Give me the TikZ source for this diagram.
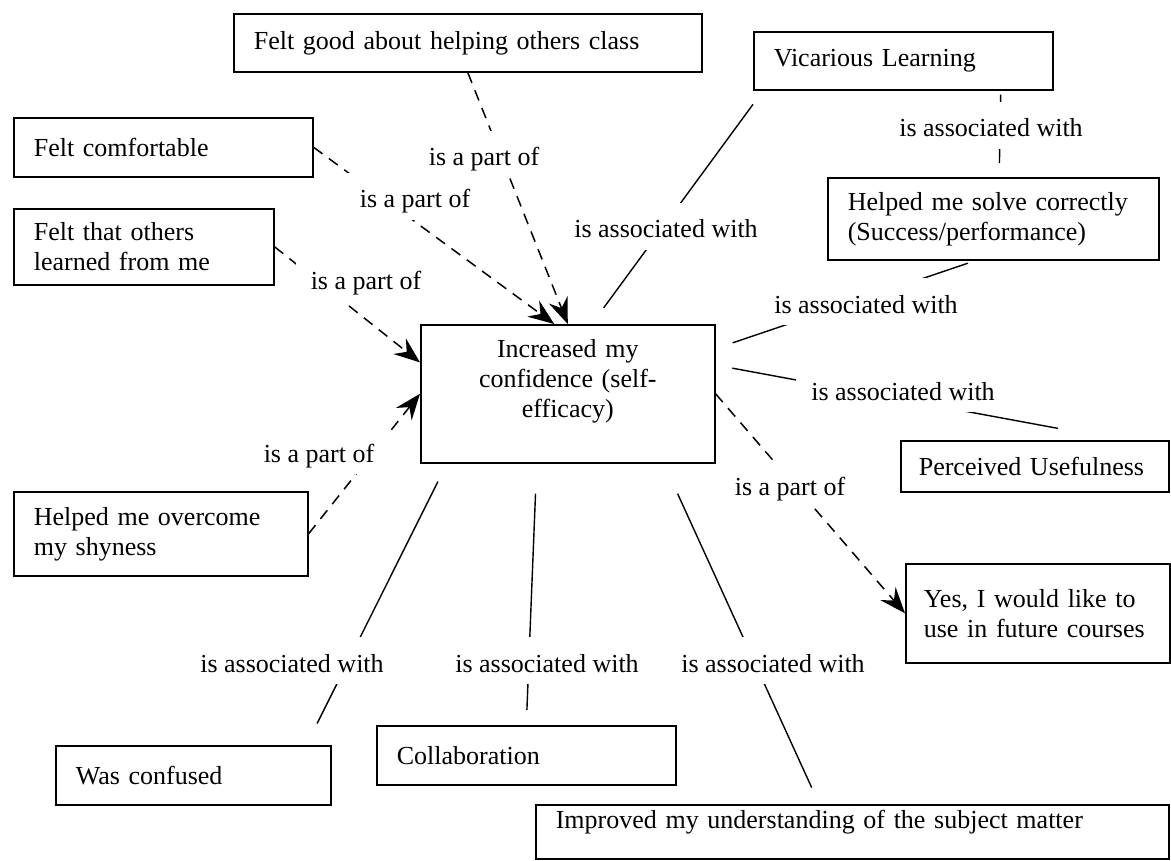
\documentclass[tikz,border=0pt]{standalone}
\usepackage{fontspec}
\setmainfont{Liberation Serif}
\usetikzlibrary{arrows.meta}

\begin{document}
\begin{tikzpicture}[x=1pt,y=-1pt,
    every node/.style={font=\fontsize{26pt}{30pt}\selectfont},
    concept/.style={draw=black,line width=1.6pt,anchor=north west,align=left,inner xsep=20pt,inner ysep=0pt},
    linkword/.style={fill=white,inner sep=0pt,inner xsep=15pt,text height=35pt,text depth=12pt,anchor=base},
    assoc/.style={line width=1.4pt},
    partof/.style={line width=1.5pt,dash pattern=on 11pt off 8pt,-{Stealth[length=26pt,width=20pt,inset=9pt]}}]
    \useasboundingbox (0,0) rectangle (1171,861);

    \node[concept,text width=428pt,minimum height=58pt] (good) at (233,13) {Felt good about helping others class};
    \node[concept,text width=259pt,minimum height=58pt] (vic) at (753,31) {Vicarious Learning};
    \node[concept,text width=259pt,minimum height=59pt] (comf) at (13,117) {Felt comfortable};
    \node[concept,text width=220pt,minimum height=76pt] (others) at (13,208) {Felt that others\\learned from me};
    \node[concept,text width=291pt,minimum height=82pt] (solve) at (827,177) {Helped me solve correctly\\(Success/performance)};
    \node[concept,text width=254pt,minimum height=138pt,align=center] (ctr) at (420,324) {Increased my\\confidence (self-\\efficacy)\\\mbox{}};
    \node[concept,text width=232pt,inner xsep=18pt,minimum height=51pt] (useful) at (900,440) {Perceived Usefulness};
    \node[concept,text width=254pt,minimum height=84pt] (shy) at (13,491) {Helped me overcome\\my shyness};
    \node[concept,text width=228pt,inner xsep=18pt,minimum height=99pt] (future) at (905,563) {Yes, I would like to\\use in future courses};
    \node[concept,text width=235pt,minimum height=59pt] (confused) at (55,745) {Was confused};
    \node[concept,text width=259pt,minimum height=59pt] (collab) at (376,725) {Collaboration};
    \node[concept,text width=593pt,minimum height=54pt] (subject) at (535,804) {Improved my understanding of the subject matter\\[-6pt]\mbox{}};

    % is a part of
    \draw[partof] (good.south) -- (ctr.north);
    \draw[partof] (comf.east) -- (ctr.101);
    \draw[partof] (others.east) -- (ctr.168.5);
    \draw[partof] (shy.east) -- (ctr.west);
    \draw[partof] (ctr.east) -- (future.west);

    % is associated with
    \draw[assoc,shorten <=20pt,shorten >=17pt] (ctr.71) -- (vic.192);
    \draw[assoc,shorten <=4pt,shorten >=14pt] (vic.-17) -- (solve.82);
    \draw[assoc,shorten <=18pt,shorten >=8pt] (ctr.17.5) -- (solve.247);
    \draw[assoc,shorten <=17pt,shorten >=64pt] (ctr.11) -- (useful.17.5);
    \draw[assoc,shorten <=20pt,shorten >=24pt] (ctr.210) -- (confused.15);
    \draw[assoc,shorten <=30pt,shorten >=15pt] (ctr.246) -- (collab.north);
    \draw[assoc,shorten <=33pt,shorten >=18pt] (ctr.-36) -- (subject.140);

    \node[linkword] (pgood) at (484,166) {is a part of};
    \node[linkword] (pcomf) at (415,208) {is a part of};
    \node[linkword] (pothers) at (366,290) {is a part of};
    \node[linkword] (pshy) at (319,462) {is a part of};
    \node[linkword] (pfuture) at (790,495) {is a part of};
    \node[linkword] (avic) at (666,238) {is associated with};
    \node[linkword] (avicsolve) at (991,137) {is associated with};
    \node[linkword] (asolve) at (866,313) {is associated with};
    \node[linkword] (auseful) at (903,400) {is associated with};
    \node[linkword] (aconfused) at (292,672) {is associated with};
    \node[linkword] (acollab) at (547,672) {is associated with};
    \node[linkword] (asubject) at (773,672) {is associated with};
\end{tikzpicture}
\end{document}
